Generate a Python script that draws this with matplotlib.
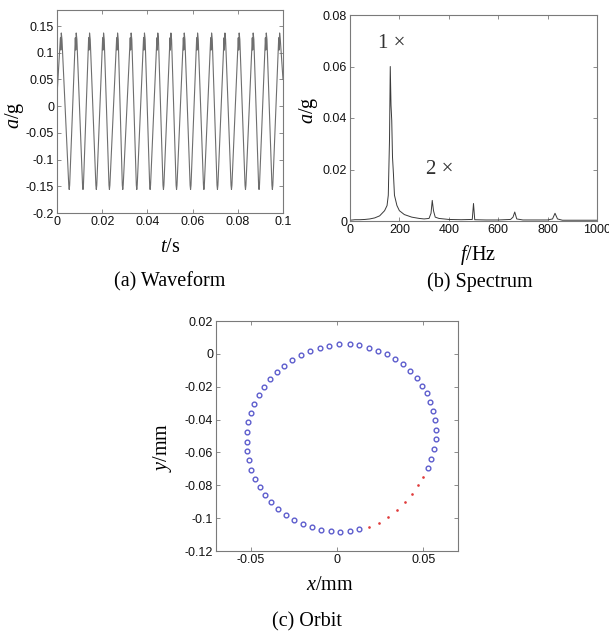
import numpy as np
import matplotlib
matplotlib.use("Agg")
import matplotlib.pyplot as plt

plt.rcParams["mathtext.fontset"] = "custom"
plt.rcParams["mathtext.it"] = "Liberation Serif:italic"
plt.rcParams["mathtext.rm"] = "Liberation Serif"

# ---------------- data ----------------
# (a) waveform: peak / trough times
peak_t = [0.0019, 0.0085, 0.0144, 0.0206, 0.0268, 0.0328, 0.0387, 0.0446, 0.0504,
          0.0563, 0.0622, 0.0684, 0.0743, 0.0806, 0.0868, 0.0926, 0.0985]
trough_t = [0.0054, 0.0115, 0.0174, 0.0232, 0.0291, 0.0353, 0.0412, 0.0471,
            0.0529, 0.0591, 0.0650, 0.0710, 0.0772, 0.0834, 0.0894, 0.0953]
peak_a = 0.137
notch_a = 0.105
trough_a = -0.156

# (b) spectrum
freq = [0, 20, 40, 60, 80, 100, 120, 140, 150, 155, 160, 163, 166, 169, 172, 176,
        180, 190, 200, 220, 250, 280, 300, 320, 328, 333, 338, 345, 360, 400, 450,
        495, 500, 505, 550, 600, 650, 660, 667, 675, 700, 750, 800, 820, 830, 840,
        860, 900, 1000]
amp = [0.0003, 0.0005, 0.0005, 0.0006, 0.0008, 0.0012, 0.002, 0.004, 0.006, 0.010,
       0.032, 0.060, 0.045, 0.039, 0.025, 0.018, 0.010, 0.006, 0.004, 0.0025, 0.0015,
       0.001, 0.0008, 0.001, 0.003, 0.008, 0.004, 0.0015, 0.001, 0.0006, 0.0005,
       0.0006, 0.0068, 0.0005, 0.0004, 0.0004, 0.0006, 0.0015, 0.0035, 0.0008,
       0.0004, 0.0004, 0.0004, 0.0008, 0.003, 0.0008, 0.0003, 0.0003, 0.0003]

# (c) orbit
blue_x = [-0.0523, -0.0523, -0.0513, -0.0498, -0.0481, -0.0454, -0.0424, -0.0387,
          -0.0349, -0.0306, -0.0259, -0.0209, -0.0155, -0.0099, -0.0044, 0.0011,
          0.0075, 0.0130, 0.0184, 0.0237, 0.0289, 0.0337, 0.0383, 0.0424, 0.0461,
          0.0493, 0.0521, 0.0540, 0.0557, 0.0569, 0.0571, 0.0571, 0.0559, 0.0544,
          0.0525,
          0.0130, 0.0076, 0.0019, -0.0037, -0.0092, -0.0145, -0.0199, -0.0251,
          -0.0297, -0.0343, -0.0383, -0.0418, -0.0448, -0.0475, -0.0496, -0.0511,
          -0.0521]
blue_y = [-0.0534, -0.0473, -0.0416, -0.0357, -0.0305, -0.0252, -0.0201, -0.0152,
          -0.0110, -0.0071, -0.0037, -0.0006, 0.0016, 0.0035, 0.0049, 0.0057,
          0.0059, 0.0051, 0.0037, 0.0018, -0.0002, -0.0030, -0.0063, -0.0104,
          -0.0144, -0.0193, -0.0239, -0.0291, -0.0345, -0.0402, -0.0463, -0.0518,
          -0.0580, -0.0638, -0.0692,
          -0.1068, -0.1076, -0.1082, -0.1078, -0.1070, -0.1055, -0.1037, -0.1009,
          -0.0979, -0.0944, -0.0903, -0.0859, -0.0810, -0.0759, -0.0705, -0.0647,
          -0.0591]
red_x = [0.0498, 0.0470, 0.0433, 0.0391, 0.0345, 0.0295, 0.0241, 0.0186]
red_y = [-0.0749, -0.0798, -0.0851, -0.0901, -0.0948, -0.0991, -0.1027, -0.1054]

# build waveform polyline from peaks / troughs
pts = [(0.0, 0.02)]
for tp in peak_t:
    pts += [(tp - 0.0004, 0.128), (tp - 0.0002, notch_a), (tp, peak_a), (tp + 0.0003, 0.125)]
for tt in trough_t:
    pts += [(tt - 0.0002, -0.148), (tt, trough_a), (tt + 0.0002, -0.148)]
pts.append((0.1, 0.05))
pts.sort()
wave_t = [p[0] for p in pts]
wave_a = [p[1] for p in pts]

TICK_FONT = dict(family="Liberation Sans", size=9, color="#111111")
SERIF = "Liberation Serif"
FRAME = "#7a7a7a"


def style(ax):
    for s in ax.spines.values():
        s.set_color(FRAME)
        s.set_linewidth(0.8)
    ax.tick_params(direction="in", length=3, width=0.6, color=FRAME,
                   top=True, right=True, pad=2)
    for lab in ax.get_xticklabels() + ax.get_yticklabels():
        lab.set_fontfamily(TICK_FONT["family"])
        lab.set_fontsize(TICK_FONT["size"])
        lab.set_color(TICK_FONT["color"])


fig = plt.figure(figsize=(6.09, 6.36), dpi=100)
W, H = 609, 636


def add_axes(l, r, t, b):
    return fig.add_axes([l / W, 1 - b / H, (r - l) / W, (b - t) / H])


def ftext(x, y, s, **kw):
    fig.text(x / W, 1 - y / H, s, ha="center", va="center", family=SERIF, **kw)


# (a) waveform
ax1 = add_axes(57, 283, 10, 213)
ax1.plot(wave_t, wave_a, color="#6e6e6e", lw=0.8)
ax1.set_xlim(0, 0.1)
ax1.set_ylim(-0.2, 0.18)
ax1.set_xticks([0, 0.02, 0.04, 0.06, 0.08, 0.1])
ax1.set_xticklabels(["0", "0.02", "0.04", "0.06", "0.08", "0.1"])
ax1.set_yticks([-0.2, -0.15, -0.1, -0.05, 0, 0.05, 0.1, 0.15])
ax1.set_yticklabels(["-0.2", "-0.15", "-0.1", "-0.05", "0", "0.05", "0.1", "0.15"])
style(ax1)

# (b) spectrum
ax2 = add_axes(350, 597, 15, 221)
ax2.plot(freq, amp, color="#3a3a3a", lw=0.7)
ax2.set_xlim(0, 1000)
ax2.set_ylim(0, 0.08)
ax2.set_xticks([0, 200, 400, 600, 800, 1000])
ax2.set_xticklabels(["0", "200", "400", "600", "800", "1000"])
ax2.set_yticks([0, 0.02, 0.04, 0.06, 0.08])
ax2.set_yticklabels(["0", "0.02", "0.04", "0.06", "0.08"])
ax2.text(170, 0.069, "1 \u00d7", ha="center", va="center", family=SERIF,
         fontsize=15, color="#333333")
ax2.text(365, 0.020, "2 \u00d7", ha="center", va="center", family=SERIF,
         fontsize=15, color="#333333")
style(ax2)

# (c) orbit
ax3 = add_axes(216, 458, 321, 551)
ax3.plot(blue_x, blue_y, "o", ms=3.4, mfc="none", mec="#3434c0", mew=1.0, alpha=0.8)
ax3.plot(red_x, red_y, ".", ms=1.8, color="#e03c3c")
ax3.set_xlim(-0.07, 0.07)
ax3.set_ylim(-0.12, 0.02)
ax3.set_xticks([-0.05, 0, 0.05])
ax3.set_xticklabels(["-0.05", "0", "0.05"])
ax3.set_yticks([-0.12, -0.1, -0.08, -0.06, -0.04, -0.02, 0, 0.02])
ax3.set_yticklabels(["-0.12", "-0.1", "-0.08", "-0.06", "-0.04", "-0.02", "0", "0.02"])
style(ax3)

# labels and captions
ftext(14, 115, "$a$/g", fontsize=14.5, rotation=90)
ftext(170, 248, "$t$/s", fontsize=14.5)
ftext(170, 282, "(a) Waveform", fontsize=14.5)
ftext(308, 110, "$a$/g", fontsize=14.5, rotation=90)
ftext(478, 255, "$f$/Hz", fontsize=14.5)
ftext(480, 282, "(b) Spectrum", fontsize=14.5)
ftext(163, 447, "$y$/mm", fontsize=14.5, rotation=90)
ftext(330, 585, "$x$/mm", fontsize=14.5)
ftext(307, 622, "(c) Orbit", fontsize=14.5)

fig.savefig("out.png", dpi=100)
